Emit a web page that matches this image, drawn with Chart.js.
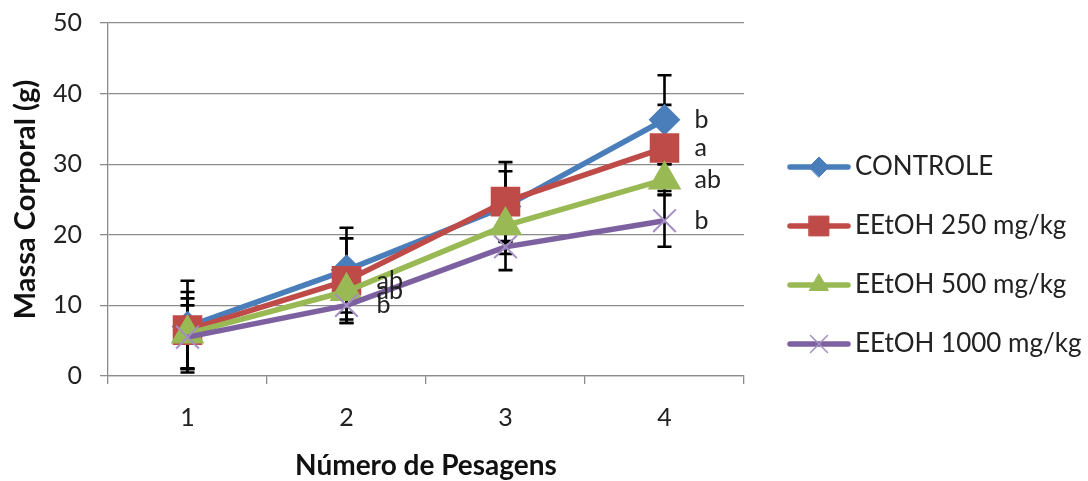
<!DOCTYPE html>
<html>
<head>
<meta charset="utf-8">
<script src="https://cdn.jsdelivr.net/npm/chart.js@4.4.1/dist/chart.umd.min.js"></script>
<style>
html, body { margin: 0; padding: 0; background: #fff; }
#wrap { width: 1088px; height: 481px; }
</style>
</head>
<body>
<div id="wrap"><canvas id="massaChart" width="1088" height="481"></canvas></div>
<script>
// weighings on the x axis
const pesagens = ['1', '2', '3', '4'];
const yTicks = [0, 10, 20, 30, 40, 50];

// mean body mass (g)
const controle = [7, 15, 24, 36.3];
const eetoh250 = [6.5, 13.5, 24.7, 32.3];
const eetoh500 = [6, 12, 21.3, 27.8];
const eetoh1000 = [5.5, 10, 18.3, 22];

// error bar half-widths (g)
const sdControle = [6.5, 6, 5, 6.3];
const sd250 = [5.4, 6, 5.6, 6.1];
const sd500 = [5, 4, 4, 2.2];
const sd1000 = [4.5, 2.5, 3.3, 3.7];

// significance letters next to the points
const letrasControle = ['', '', '', 'b'];
const letras250 = ['', 'ab', '', 'a'];
const letras500 = ['', 'ab', '', 'ab'];
const letras1000 = ['', 'b', '', 'b'];

const FONT = 'Lato, "Open Sans", sans-serif';
Chart.defaults.font.family = FONT;
Chart.defaults.color = '#222';

// black error bars, under the markers
const errorBars = {
    id: 'errorBars',
    beforeDatasetsDraw(chart) {
        const ctx = chart.ctx;
        const y = chart.scales.y;
        ctx.save();
        ctx.strokeStyle = '#000';
        ctx.lineWidth = 2.6;
        chart.data.datasets.forEach((ds, i) => {
            const meta = chart.getDatasetMeta(i);
            ds.data.forEach((v, j) => {
                const px = meta.data[j].x;
                const top = y.getPixelForValue(v + ds.sd[j]);
                const bot = y.getPixelForValue(v - ds.sd[j]);
                ctx.beginPath();
                ctx.moveTo(px, top); ctx.lineTo(px, bot);
                ctx.moveTo(px - 7, top); ctx.lineTo(px + 7, top);
                ctx.moveTo(px - 7, bot); ctx.lineTo(px + 7, bot);
                ctx.stroke();
            });
        });
        ctx.restore();
    }
};

// the letters beside the points
const letters = {
    id: 'letters',
    afterDatasetsDraw(chart) {
        const ctx = chart.ctx;
        ctx.save();
        ctx.font = '25px ' + FONT;
        ctx.fillStyle = '#222';
        ctx.textAlign = 'left';
        ctx.textBaseline = 'middle';
        chart.data.datasets.forEach((ds, i) => {
            const meta = chart.getDatasetMeta(i);
            ds.letras.forEach((t, j) => {
                if (t) ctx.fillText(t, meta.data[j].x + 30, meta.data[j].y);
            });
        });
        ctx.restore();
    }
};

// legend on the right: line with marker, then the label
const sideLegend = {
    id: 'sideLegend',
    afterDraw(chart) {
        const ctx = chart.ctx;
        const legendSizes = [10, 14, 11, 12];
        ctx.save();
        chart.data.datasets.forEach((ds, i) => {
            const yy = 167 + i * 59;
            ctx.strokeStyle = ds.borderColor;
            ctx.lineWidth = 5.5;
            ctx.lineCap = 'round';
            ctx.beginPath();
            ctx.moveTo(790, yy); ctx.lineTo(848, yy);
            ctx.stroke();
            ctx.fillStyle = ds.backgroundColor;
            ctx.strokeStyle = ds.pointBorderColor;
            ctx.lineWidth = ds.pointStyle === 'crossRot' ? 1.5 : 1;
            Chart.helpers.drawPoint(ctx, { pointStyle: ds.pointStyle, radius: legendSizes[i], rotation: 0, borderWidth: ctx.lineWidth }, 819, yy);
            ctx.fillStyle = '#222';
            ctx.font = '26px ' + FONT;
            ctx.textAlign = 'left';
            ctx.textBaseline = 'middle';
            ctx.fillText(ds.label, 855, yy);
        });
        ctx.restore();
    }
};

const ctx = document.getElementById('massaChart').getContext('2d');
const massaChart = new Chart(ctx, {
    type: 'line',
    data: {
        labels: pesagens,
        datasets: [
            {
                label: 'CONTROLE',
                data: controle, sd: sdControle, letras: letrasControle,
                borderColor: '#4a7ebb', backgroundColor: '#4a7ebb', pointBorderColor: '#4a7ebb',
                pointStyle: 'rectRot', pointRadius: 12, borderWidth: 5.5, order: 4
            },
            {
                label: 'EEtOH 250 mg/kg',
                data: eetoh250, sd: sd250, letras: letras250,
                borderColor: '#be4b48', backgroundColor: '#be4b48', pointBorderColor: '#be4b48',
                pointStyle: 'rect', pointRadius: 17, borderWidth: 5.5, order: 3
            },
            {
                label: 'EEtOH 500 mg/kg',
                data: eetoh500, sd: sd500, letras: letras500,
                borderColor: '#98b954', backgroundColor: '#98b954', pointBorderColor: '#98b954',
                pointStyle: 'triangle', pointRadius: 14, borderWidth: 5.5, order: 2
            },
            {
                label: 'EEtOH 1000 mg/kg',
                data: eetoh1000, sd: sd1000, letras: letras1000,
                borderColor: '#7d60a0', backgroundColor: '#7d60a0', pointBorderColor: '#a38fc2',
                pointStyle: 'crossRot', pointRadius: 16, pointBorderWidth: 2, borderWidth: 5.5, order: 1
            }
        ]
    },
    options: {
        responsive: false,
        animation: false,
        layout: { padding: { left: 0, right: 344, top: 23, bottom: 0 } },
        scales: {
            x: {
                offset: true,
                afterFit: (s) => { s.height = 105; },
                grid: { offset: true, drawOnChartArea: false, tickLength: 8, color: '#8c8c8c', lineWidth: 1.3 },
                border: { color: '#8c8c8c', width: 1.3 },
                ticks: { font: { size: 25 }, color: '#222', padding: 19 },
                title: { display: true, text: 'Número de Pesagens', font: { size: 28, weight: 'bold' }, color: '#111', padding: { top: 0, bottom: -2 } }
            },
            y: {
                min: 0,
                max: 50,
                afterBuildTicks: (s) => { s.ticks = yTicks.map(v => ({ value: v })); },
                afterFit: (s) => { s.width = 108; s.paddingTop = 0; s.paddingBottom = 0; },
                grid: { color: '#8c8c8c', lineWidth: 1.3, tickLength: 8 },
                border: { color: '#8c8c8c', width: 1.3 },
                ticks: { font: { size: 25 }, color: '#222', padding: 18 },
                title: { display: true, text: 'Massa Corporal (g)', font: { size: 29, weight: 'bold' }, color: '#111', padding: { top: 8, bottom: 0 } }
            }
        },
        plugins: {
            legend: { display: false },
            tooltip: { enabled: false }
        }
    },
    plugins: [errorBars, letters, sideLegend]
});
</script>
</body>
</html>
